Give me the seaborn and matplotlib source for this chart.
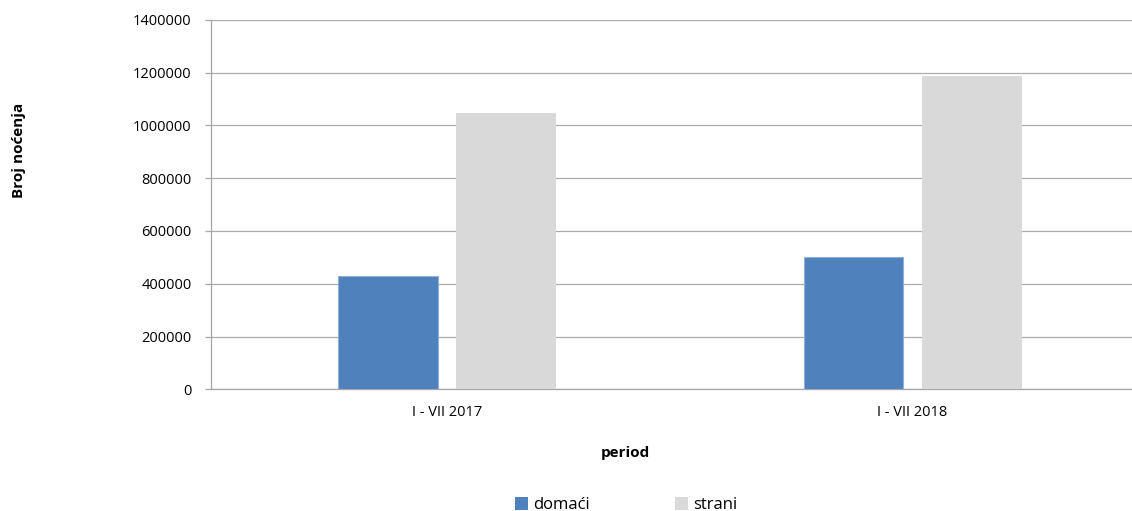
import pandas as pd
import matplotlib
matplotlib.use("Agg")
import matplotlib.pyplot as plt
import seaborn as sns

# chart data
periods = ["I - VII 2017", "I - VII 2018"]
domaci = [429000, 500000]
strani = [1048000, 1187000]
series = ["domaći", "strani"]
y_ticks = [0, 200000, 400000, 600000, 800000, 1000000, 1200000, 1400000]

df = pd.DataFrame({
    "period": periods * 2,
    "value": domaci + strani,
    "tip": [series[0]] * len(periods) + [series[1]] * len(periods),
})

sns.set_style("white", {"text.color": "black", "axes.labelcolor": "black",
                        "xtick.color": "black", "ytick.color": "black"})
plt.rcParams["font.family"] = ["Open Sans", "DejaVu Sans"]

fig = plt.figure(figsize=(11.32, 5.11), dpi=100)
ax = fig.add_axes([0.1864, 0.238, 0.8136, 0.7234])

sns.barplot(
    data=df, x="period", y="value", hue="tip",
    palette=["#4f81bd", "#d9d9d9"], width=0.509, gap=0.16,
    linewidth=0, saturation=1, ax=ax, zorder=3,
)
# light border on blue bars
for p in ax.patches:
    if p.get_facecolor()[2] > 0.6 and p.get_facecolor()[0] < 0.5:
        p.set_edgecolor("#8fb0db")
        p.set_linewidth(0.8)

ax.set_xlim(-0.507, 1.4715)
ax.set_ylim(0, 1400000)
ax.set_yticks(y_ticks)
ax.set_yticklabels([str(v) for v in y_ticks])

ax.yaxis.grid(True, color="#ababab", linewidth=0.9, zorder=0)
ax.set_axisbelow(True)
for s in ["top", "right"]:
    ax.spines[s].set_visible(False)
for s in ["left", "bottom"]:
    ax.spines[s].set_color("#a6a6a6")
    ax.spines[s].set_linewidth(0.9)

ax.tick_params(axis="y", length=4, width=0.9, color="#a6a6a6", labelcolor="black",
               pad=10, labelsize=10.5, left=True)
ax.tick_params(axis="x", length=0, pad=11, labelsize=10.5, labelcolor="black")

ax.set_xlabel("period", fontsize=11, fontweight="bold", color="black")
ax.set_ylabel("Broj noćenja", fontsize=11, fontweight="bold", color="black")
ax.xaxis.set_label_coords(0.4495, -0.1526)
ax.yaxis.set_label_coords(-0.201, 0.647)

sns.move_legend(
    ax, loc="center", bbox_to_anchor=(0.4508, -0.313), ncol=2, frameon=False,
    title=None, fontsize=12, handlelength=0.8, handleheight=0.8,
    handletextpad=0.3, columnspacing=5.1, labelcolor="black",
)

fig.savefig("out.png", dpi=100)
